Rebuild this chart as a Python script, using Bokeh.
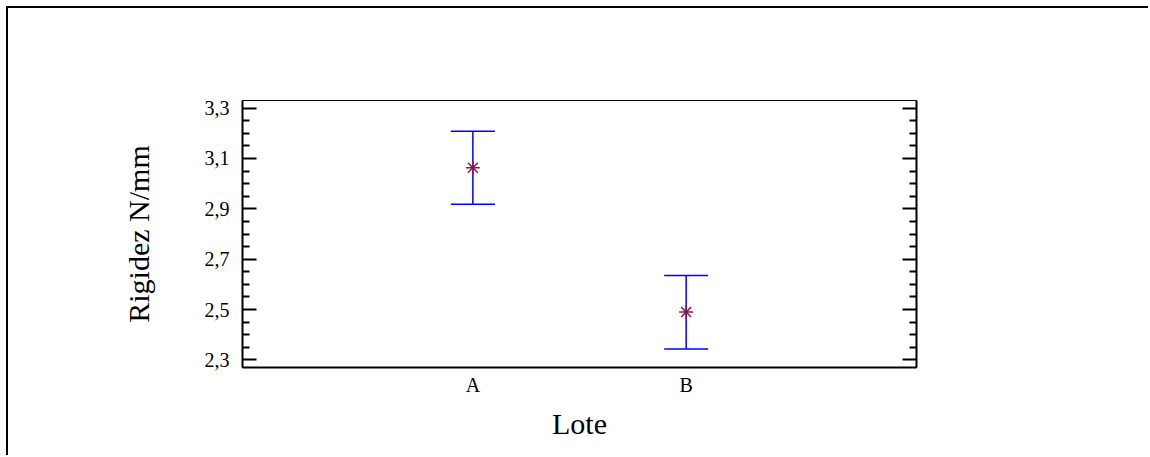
from bokeh.plotting import figure
from bokeh.models import (Range1d, LinearAxis, FixedTicker, Whisker, TeeHead,
                          ColumnDataSource)
from bokeh.embed import file_html
from bokeh.resources import INLINE

# ---- data ----
categories = ["A", "B"]
cat_pos = [1, 2]
means = [3.063, 2.490]
upper = [3.208, 2.635]
lower = [2.918, 2.343]

y_ticks = [2.3, 2.5, 2.7, 2.9, 3.1, 3.3]
y_tick_labels = ["2,3", "2,5", "2,7", "2,9", "3,1", "3,3"]

x_title = "Lote"
y_title = "Rigidez N/mm"

FONT = "Liberation Serif"

p = figure(width=1142, height=449, output_backend="svg", toolbar_location=None,
           x_range=Range1d(-0.08, 3.08), y_range=Range1d(2.27, 3.33),
           x_axis_location=None, y_axis_location=None,
           min_border_left=234, min_border_right=234,
           min_border_top=92, min_border_bottom=90,
           background_fill_color="white", border_fill_color="white")
p.grid.visible = False
p.outline_line_color = "black"
p.outline_line_width = 1
p.styles = {"border-left": "2px solid black", "border-top": "2px solid black",
            "margin-left": "6px", "margin-top": "6px"}

minor = []
for i in range(len(y_ticks) - 1):
    for k in range(1, 4):
        minor.append(y_ticks[i] + k * 0.05)

def style_y(ax, labels=True):
    ax.ticker = FixedTicker(ticks=y_ticks, minor_ticks=minor)
    ax.axis_line_width = 2
    ax.major_tick_in = 14
    ax.major_tick_out = 0
    ax.minor_tick_in = 7
    ax.minor_tick_out = 0
    ax.major_tick_line_width = 2
    ax.minor_tick_line_width = 2
    ax.major_label_text_font = FONT
    ax.major_label_text_font_size = "20px"
    ax.major_label_text_color = "black"
    ax.major_label_standoff = 13
    if labels:
        ax.major_label_overrides = dict(zip(y_ticks, y_tick_labels))
    else:
        ax.major_label_overrides = {t: "" for t in y_ticks}

yl = LinearAxis(axis_label=y_title)
style_y(yl)
yl.axis_label_text_font = FONT
yl.axis_label_text_font_size = "30px"
yl.axis_label_text_font_style = "normal"
yl.axis_label_text_color = "black"
yl.axis_label_standoff = 47
p.add_layout(yl, "left")

yr = LinearAxis()
style_y(yr, labels=False)
p.add_layout(yr, "right")

xb = LinearAxis(axis_label=x_title)
xb.ticker = FixedTicker(ticks=cat_pos, minor_ticks=[])
xb.major_label_overrides = dict(zip(cat_pos, categories))
xb.axis_line_width = 2
xb.major_tick_in = 0
xb.major_tick_out = 0
xb.major_label_text_font = FONT
xb.major_label_text_font_size = "20px"
xb.major_label_text_color = "black"
xb.major_label_standoff = 6
xb.axis_label_text_font = FONT
xb.axis_label_text_font_size = "30px"
xb.axis_label_text_font_style = "normal"
xb.axis_label_text_color = "black"
xb.axis_label_standoff = 8
p.add_layout(xb, "below")

src = ColumnDataSource(dict(x=cat_pos, mean=means, upper=upper, lower=lower))

w = Whisker(base="x", upper="upper", lower="lower", source=src,
            dimension="height", line_color="#0000ff", line_width=1.5,
            upper_head=TeeHead(size=44, line_color="#0000ff", line_width=1.5),
            lower_head=TeeHead(size=44, line_color="#0000ff", line_width=1.5))
p.add_layout(w)

p.scatter("x", "mean", source=src, marker="asterisk", size=14,
          line_color="#8b1a52", line_width=1.5)

open("out.html", "w").write(file_html(p, INLINE))
